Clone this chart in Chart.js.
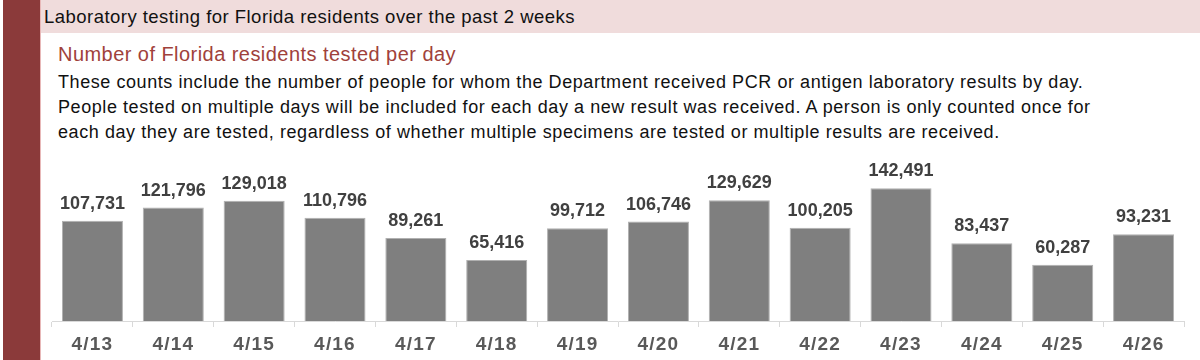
<!DOCTYPE html>
<html>
<head>
<meta charset="utf-8">
<script src="https://cdn.jsdelivr.net/npm/chart.js@4"></script>
<style>
  html, body { margin: 0; padding: 0; background: #fff; }
  #wrap { position: relative; width: 1200px; height: 360px; overflow: hidden; font-family: "Liberation Sans", Arial, sans-serif; }
  #redbar { position: absolute; left: 3px; top: 0; width: 37px; height: 360px; background: #8B3A3A; border-right: 1px solid #E8B8B8; }
  #header { position: absolute; left: 41px; top: 0; width: 1159px; height: 33px; background: #F0DCDC; }
  #header span { position: absolute; left: 3px; top: 6px; font-size: 18.5px; letter-spacing: 0.47px; color: #111; white-space: nowrap; }
  #subtitle { position: absolute; left: 58px; top: 43px; font-size: 20px; letter-spacing: 0.45px; color: #A0413B; white-space: nowrap; }
  #desc { position: absolute; left: 58px; top: 70px; font-size: 18px; letter-spacing: 0.57px; line-height: 25px; color: #111; white-space: nowrap; }
  #chartbox { position: absolute; left: 0; top: 0; width: 1200px; height: 360px; }
</style>
</head>
<body>
<div id="wrap">
  <div id="redbar"></div>
  <div id="header"><span>Laboratory testing for Florida residents over the past 2 weeks</span></div>
  <div id="subtitle">Number of Florida residents tested per day</div>
  <div id="desc">These counts include the number of people for whom the Department received PCR or antigen laboratory results by day.<br>People tested on multiple days will be included for each day a new result was received. A person is only counted once for<br>each day they are tested, regardless of whether multiple specimens are tested or multiple results are received.</div>
  <div id="chartbox"><canvas id="c" width="1200" height="360"></canvas></div>
</div>
<script>
const categories = ["4/13","4/14","4/15","4/16","4/17","4/18","4/19","4/20","4/21","4/22","4/23","4/24","4/25","4/26"];
const testedPerDay = [107731,121796,129018,110796,89261,65416,99712,106746,129629,100205,142491,83437,60287,93231];
const yMax = 160000;

const tickSpacing = {
  id: 'tickSpacing',
  beforeDraw(chart) { chart.ctx.letterSpacing = '1.2px'; }
};

const barLabels = {
  id: 'barLabels',
  afterDatasetsDraw(chart) {
    const ctx = chart.ctx;
    const meta = chart.getDatasetMeta(0);
    ctx.save();
    ctx.letterSpacing = '0px';
    ctx.font = 'bold 18px "Liberation Sans", Arial, sans-serif';
    ctx.fillStyle = '#404040';
    ctx.textAlign = 'center';
    ctx.textBaseline = 'bottom';
    meta.data.forEach((bar, i) => {
      ctx.fillText(testedPerDay[i].toLocaleString('en-US'), bar.x, bar.y - 8);
    });
    ctx.restore();
  }
};

new Chart(document.getElementById('c'), {
  type: 'bar',
  data: {
    labels: categories,
    datasets: [{
      data: testedPerDay,
      backgroundColor: '#7F7F7F',
      borderColor: '#B0B0B0',
      borderWidth: 1,
      barPercentage: 0.755,
      categoryPercentage: 1.0
    }]
  },
  options: {
    responsive: false,
    animation: false,
    devicePixelRatio: 1,
    layout: { padding: { left: 52, right: 16, top: 172, bottom: -2 } },
    plugins: { legend: { display: false }, tooltip: { enabled: false } },
    scales: {
      x: {
        grid: { drawOnChartArea: false, drawTicks: true, tickLength: 6, color: '#D9D9D9', offset: true },
        border: { color: '#D9D9D9', width: 1 },
        ticks: { color: '#595959', font: { family: '"Liberation Sans", Arial, sans-serif', size: 19, weight: 'bold', lineHeight: 1.0 }, padding: 8, maxRotation: 0 }
      },
      y: {
        display: false,
        min: 0,
        max: yMax
      }
    }
  },
  plugins: [tickSpacing, barLabels]
});
</script>
</body>
</html>
